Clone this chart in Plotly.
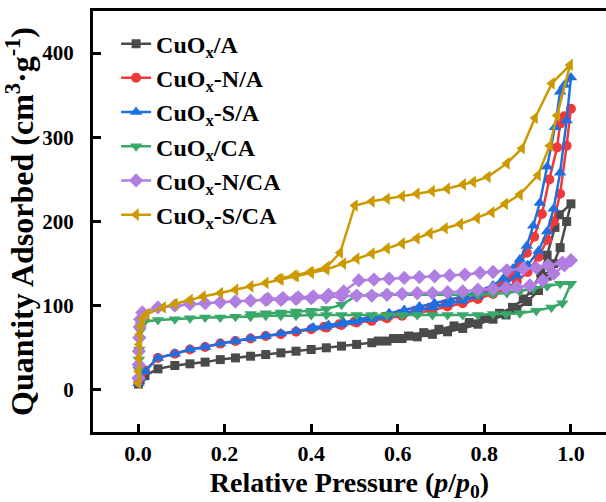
import plotly.graph_objects as go

# ---------------- data ----------------
names = ["CuO<sub>x</sub>/A", "CuO<sub>x</sub>-N/A", "CuO<sub>x</sub>-S/A",
         "CuO<sub>x</sub>/CA", "CuO<sub>x</sub>-N/CA", "CuO<sub>x</sub>-S/CA"]

a_ads_x = [0.001, 0.005, 0.016, 0.046, 0.085, 0.12, 0.155, 0.19, 0.225, 0.26, 0.295, 0.33,
           0.365, 0.40, 0.435, 0.47, 0.505, 0.54, 0.575, 0.61, 0.645, 0.68, 0.715, 0.75,
           0.785, 0.82, 0.85, 0.875, 0.90, 0.925, 0.945, 0.96, 0.975, 0.99, 1.0]

gray_ads_y = [7, 12, 17, 25, 29, 31, 33, 36, 38, 40, 42, 44, 46, 48, 50, 52, 54, 56, 58, 61,
              63, 66, 69, 73, 78, 84, 89, 96, 105, 118, 135, 150, 169, 200, 221]
gray_des_x = [0.973, 0.963, 0.945, 0.93, 0.91, 0.89, 0.865, 0.835, 0.80, 0.765, 0.73, 0.695,
              0.66, 0.625, 0.59, 0.555]
gray_des_y = [208, 193, 160, 139, 118, 108, 98, 91, 85, 80, 76, 72, 68, 64, 61, 58]

red_ads_y = [9, 15, 23, 38, 43, 48, 51, 55, 58, 61, 64, 66, 69, 72, 74, 77, 80, 82, 85, 88,
             91, 95, 99, 103, 108, 114, 120, 129, 140, 158, 178, 200, 233, 290, 334]
red_des_x = [0.985, 0.975, 0.968, 0.95, 0.933, 0.915, 0.898, 0.88, 0.86, 0.84, 0.81, 0.78,
             0.745, 0.71, 0.675, 0.64, 0.605, 0.57, 0.535, 0.50, 0.465, 0.43]
red_des_y = [325, 316, 288, 250, 209, 182, 163, 148, 135, 125, 117, 111, 106, 102, 98, 94,
             90, 87, 84, 81, 78, 75]

blue_ads_y = [8, 14, 22, 38, 43, 48, 51, 55, 58, 61, 64, 67, 70, 73, 75, 78, 81, 84, 87, 90,
              94, 98, 102, 106, 111, 117, 126, 136, 148, 165, 188, 215, 258, 320, 371]
blue_des_x = [0.985, 0.975, 0.963, 0.945, 0.928, 0.913, 0.898, 0.882, 0.866, 0.845, 0.82,
              0.79, 0.755, 0.72, 0.685, 0.65, 0.615, 0.58, 0.545, 0.51, 0.475, 0.44, 0.405]
blue_des_y = [362, 354, 312, 265, 222, 195, 171, 155, 144, 133, 124, 118, 112, 107, 103, 99,
              95, 91, 87, 84, 80, 77, 74]

green_ads_x = [0.001, 0.0015, 0.002, 0.003, 0.004, 0.005, 0.007, 0.015, 0.046, 0.085, 0.12,
               0.155, 0.19, 0.225, 0.26, 0.295, 0.33, 0.365, 0.40, 0.435, 0.47, 0.505, 0.54,
               0.575, 0.61, 0.645, 0.68, 0.715, 0.75, 0.785, 0.82, 0.85, 0.882, 0.92, 0.955,
               0.98, 1.0]
green_ads_y = [12, 24, 36, 48, 60, 70, 77, 81, 83, 84, 85, 86, 86, 87, 87, 88, 88, 88, 89, 89,
               89, 89, 89, 89, 89, 89, 89, 89, 89, 89, 90, 90, 91, 94, 98, 103, 126]
green_des_x = [0.975, 0.945, 0.913, 0.882, 0.852, 0.82, 0.785, 0.75, 0.715, 0.68, 0.645, 0.61,
               0.575, 0.54, 0.505, 0.47, 0.435, 0.40, 0.365, 0.33, 0.295, 0.26]
green_des_y = [126, 123, 120, 117, 115, 114, 113, 113, 113, 113, 113, 113, 113, 112, 112, 101,
               96, 94, 93, 92, 91, 90]

purple_ads_x = [0.001, 0.0015, 0.002, 0.003, 0.004, 0.005, 0.01, 0.046, 0.085, 0.12, 0.155,
                0.19, 0.225, 0.26, 0.295, 0.33, 0.365, 0.40, 0.435, 0.47, 0.505, 0.54, 0.575,
                0.61, 0.645, 0.68, 0.715, 0.75, 0.785, 0.82, 0.85, 0.875, 0.905, 0.935, 0.96,
                0.985, 1.0]
purple_ads_y = [14, 30, 46, 62, 75, 84, 92, 98, 100, 102, 103, 104, 105, 106, 107, 107, 108,
                109, 110, 111, 112, 112, 113, 114, 115, 115, 116, 117, 119, 120, 121, 122, 124,
                130, 138, 148, 154]
purple_des_x = [0.98, 0.947, 0.92, 0.89, 0.852, 0.82, 0.79, 0.755, 0.72, 0.685, 0.65, 0.615,
                0.58, 0.545, 0.51, 0.475, 0.44, 0.405, 0.37, 0.335, 0.30]
purple_des_y = [151, 148, 145, 144, 142, 140, 139, 137, 136, 135, 134, 133, 132, 131, 130, 117,
                113, 111, 110, 109, 108]

gold_ads_x = [0.001, 0.0015, 0.002, 0.003, 0.004, 0.006, 0.01, 0.02, 0.058, 0.085, 0.12, 0.15,
              0.19, 0.225, 0.26, 0.295, 0.33, 0.365, 0.40, 0.435, 0.474, 0.505, 0.54, 0.575,
              0.61, 0.644, 0.674, 0.709, 0.744, 0.783, 0.817, 0.848, 0.882, 0.924, 0.951,
              0.968, 0.998]
gold_ads_y = [8, 22, 38, 54, 66, 76, 84, 90, 98, 102, 107, 111, 115, 119, 123, 127, 131, 135,
              139, 143, 150, 156, 162, 168, 174, 180, 186, 192, 197, 204, 211, 221, 232, 255,
              290, 326, 386]
gold_des_x = [0.956, 0.917, 0.887, 0.852, 0.808, 0.774, 0.751, 0.714, 0.679, 0.644, 0.61,
              0.575, 0.54, 0.501, 0.467, 0.436, 0.397, 0.36, 0.325]
gold_des_y = [364, 323, 287, 269, 253, 247, 244, 239, 236, 233, 230, 227, 224, 219, 163, 146,
              140, 136, 132]

x_ticks = [0.0, 0.2, 0.4, 0.6, 0.8, 1.0]
x_tick_labels = ["0.0", "0.2", "0.4", "0.6", "0.8", "1.0"]
y_ticks = [0, 100, 200, 300, 400]

# ---------------- styling ----------------
series = [
    (names[0], a_ads_x + gray_des_x, gray_ads_y + gray_des_y, "#4a4a4a", "square", 9),
    (names[1], a_ads_x + red_des_x, red_ads_y + red_des_y, "#f0393b", "circle", 10),
    (names[2], a_ads_x + blue_des_x, blue_ads_y + blue_des_y, "#1f6fe0", "triangle-up", 11),
    (names[3], green_ads_x + green_des_x, green_ads_y + green_des_y, "#3aa86a", "triangle-down", 11),
    (names[4], purple_ads_x + purple_des_x, purple_ads_y + purple_des_y, "#b07ee0", "diamond", 11),
    (names[5], gold_ads_x + gold_des_x, gold_ads_y + gold_des_y, "#cc9a00", "triangle-left", 11),
]

fig = go.Figure()
for i, (nm, xs, ys, col, sym, sz) in enumerate(series):
    fig.add_trace(go.Scatter(
        x=xs, y=ys, name=nm, mode="lines+markers", legendgroup=f"g{i}",
        line=dict(color=col, width=2.5),
        marker=dict(symbol=sym, size=sz, color=col, line=dict(width=0)),
        cliponaxis=True,
    ))

font_family = "Liberation Serif, Times New Roman, serif"
fig.update_layout(
    width=606, height=502,
    margin=dict(l=93, r=0, t=11, b=70),
    paper_bgcolor="white", plot_bgcolor="white",
    font=dict(family=font_family, size=22, color="black", weight="bold"),
    showlegend=True,
    legend=dict(x=0.045, y=0.975, xanchor="left", yanchor="top",
                bgcolor="rgba(0,0,0,0)", traceorder="grouped", tracegroupgap=0,
                font=dict(family=font_family, size=24, color="black", weight="bold"),
                itemwidth=30),
    xaxis=dict(range=[-0.104, 1.081], tickvals=x_ticks, ticktext=x_tick_labels,
               ticks="inside", ticklen=8, tickwidth=3, tickcolor="black",
               showline=True, linewidth=3, linecolor="black", mirror=True,
               showgrid=False, zeroline=False, automargin=False,
               title=dict(text="Relative Pressure (<i>p</i>/<i>p</i><sub>0</sub>)",
                          font=dict(size=28, family=font_family, weight="bold")),
               tickfont=dict(size=22, family=font_family, weight="bold")),
    yaxis=dict(range=[-50, 450], tickvals=y_ticks,
               ticks="inside", ticklen=8, tickwidth=3, tickcolor="black",
               showline=True, linewidth=3, linecolor="black", mirror=False,
               showgrid=False, zeroline=False, automargin=False,
               ticklabelstandoff=12,
               title=dict(text="Quantity Adsorbed (cm<sup>3</sup>·g<sup>-1</sup>)",
                          font=dict(size=32, family=font_family, weight="bold")),
               tickfont=dict(size=21, family=font_family, weight="bold")),
)

fig.write_html("out.html",
               config={"displayModeBar": False, "staticPlot": True},
               post_script="document.body.style.margin='0';document.body.style.overflow='hidden';")
